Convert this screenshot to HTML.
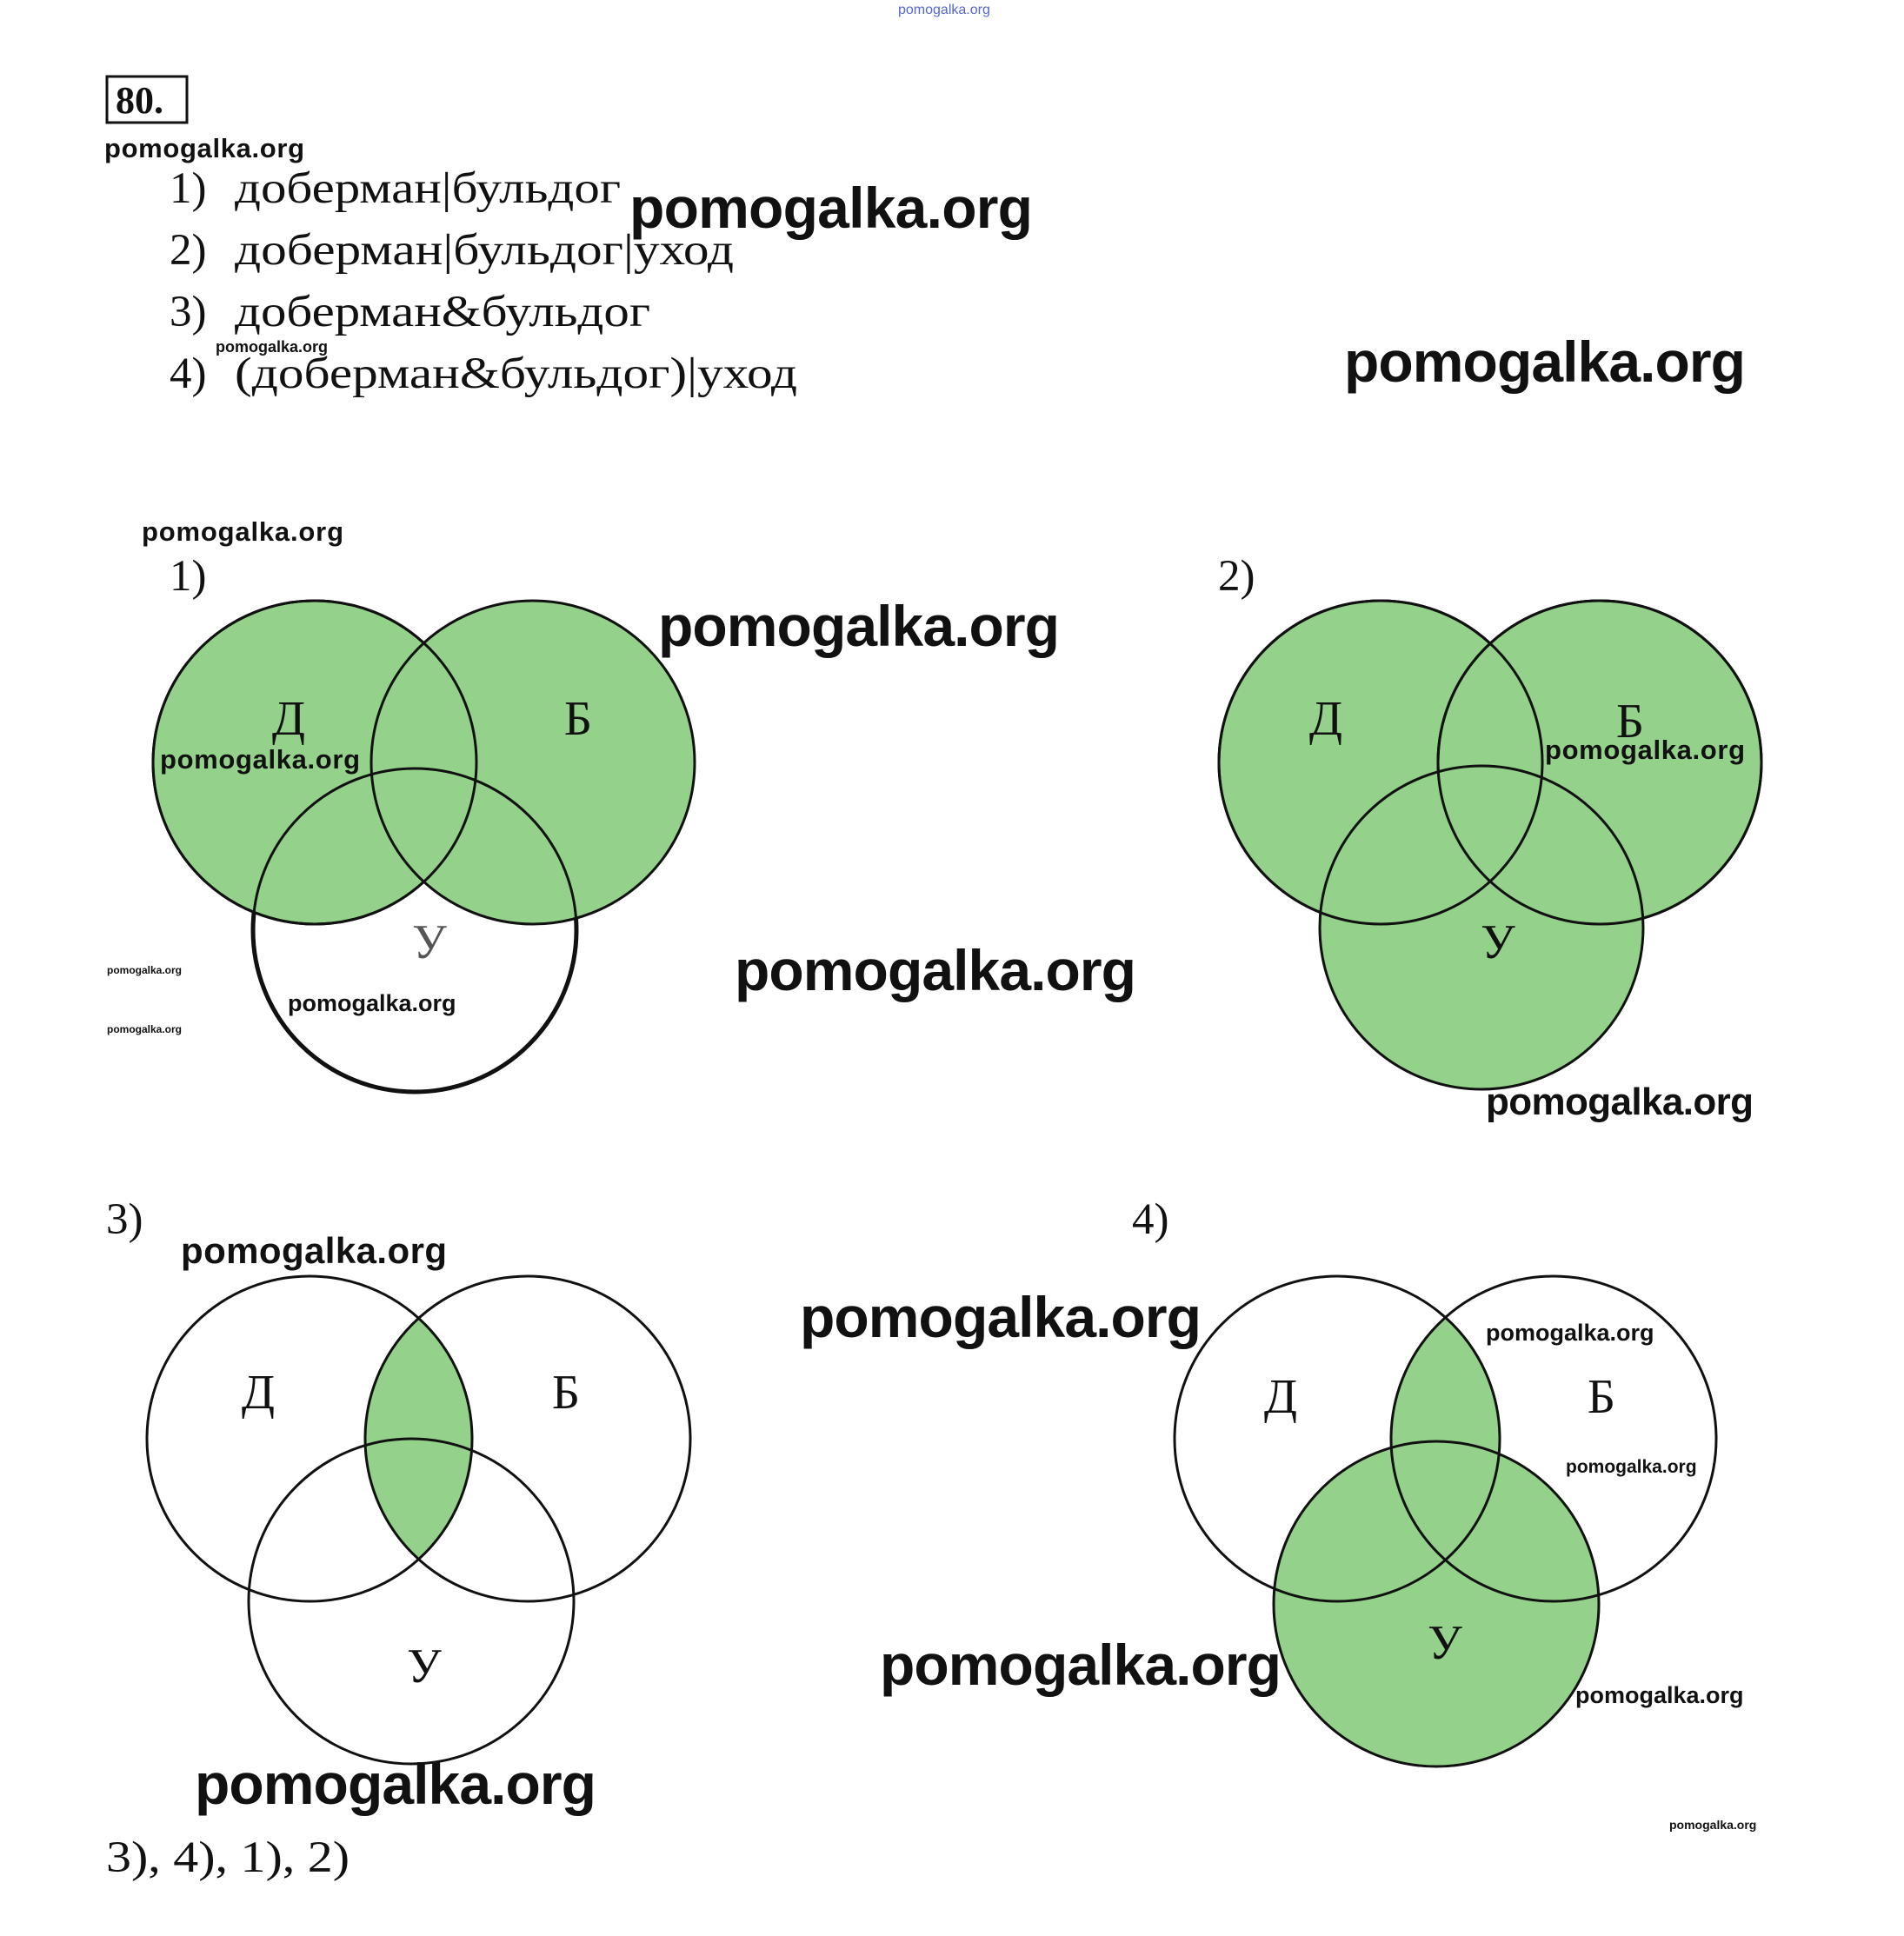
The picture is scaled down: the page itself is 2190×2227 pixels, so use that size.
<!DOCTYPE html>
<html><head><meta charset="utf-8"><style>
html,body{margin:0;padding:0;background:#fff}
svg{display:block}
.s{font-family:"Liberation Serif",serif;fill:#111}
.w{font-family:"Liberation Sans",sans-serif;font-weight:bold;fill:#111}
</style></head><body>
<svg width="2190" height="2227" viewBox="0 0 2190 2227" xmlns="http://www.w3.org/2000/svg">
<defs>
<clipPath id="cD3"><circle cx="356" cy="1655" r="187"/></clipPath>
<clipPath id="cD4"><circle cx="1538" cy="1655" r="187"/></clipPath>
</defs>
<text x="1033" y="16" font-family="Liberation Sans,sans-serif" font-size="16" fill="#5566cc">pomogalka.org</text>
<rect x="123" y="88" width="92" height="53" fill="none" stroke="#111" stroke-width="3"/>
<text x="133" y="130" class="s" font-size="44" font-weight="bold">80.</text>
<text x="120" y="181" class="w" font-size="31" textLength="230">pomogalka.org</text>
<g class="s" font-size="51">
<text x="195" y="233">1)</text><text x="270" y="233" textLength="444" lengthAdjust="spacingAndGlyphs">доберман|бульдог</text>
<text x="195" y="304">2)</text><text x="270" y="304" textLength="574" lengthAdjust="spacingAndGlyphs">доберман|бульдог|уход</text>
<text x="195" y="375">3)</text><text x="270" y="375" textLength="478" lengthAdjust="spacingAndGlyphs">доберман&amp;бульдог</text>
<text x="195" y="446">4)</text><text x="270" y="446" textLength="647" lengthAdjust="spacingAndGlyphs">(доберман&amp;бульдог)|уход</text>
</g>
<text x="724" y="262" class="w" font-size="66" textLength="464">pomogalka.org</text>
<text x="248" y="405" class="w" font-size="18">pomogalka.org</text>
<text x="1546" y="439" class="w" font-size="66" textLength="462">pomogalka.org</text>
<text x="163" y="622" class="w" font-size="31" textLength="232">pomogalka.org</text>
<text x="195" y="679" class="s" font-size="51">1)</text>
<text x="1401" y="679" class="s" font-size="51">2)</text>
<text x="757" y="743" class="w" font-size="66" textLength="462">pomogalka.org</text>

<!-- Diagram 1 -->
<g stroke="#111" stroke-width="3">
<circle cx="477" cy="1070" r="186" fill="#fff" stroke-width="5"/>
<circle cx="362" cy="877" r="186" fill="#94d18a"/>
<circle cx="613" cy="877" r="186" fill="#94d18a"/>
<circle cx="362" cy="877" r="186" fill="none"/>
<circle cx="477" cy="1070" r="186" fill="none"/>
</g>
<g class="s" font-size="56" text-anchor="middle">
<text x="332" y="845">Д</text><text x="665" y="845">Б</text><text x="494" y="1102" fill="#555">У</text>
</g>
<text x="184" y="884" class="w" font-size="31" textLength="230">pomogalka.org</text>
<text x="123" y="1120" class="w" font-size="12">pomogalka.org</text>
<text x="123" y="1188" class="w" font-size="12">pomogalka.org</text>
<text x="331" y="1163" class="w" font-size="27" font-weight="normal">pomogalka.org</text>
<text x="845" y="1139" class="w" font-size="66" textLength="462">pomogalka.org</text>

<!-- Diagram 2 -->
<g stroke="#111" stroke-width="3">
<circle cx="1588" cy="877" r="186" fill="#94d18a"/>
<circle cx="1840" cy="877" r="186" fill="#94d18a"/>
<circle cx="1704" cy="1067" r="186" fill="#94d18a"/>
<circle cx="1588" cy="877" r="186" fill="none"/>
<circle cx="1840" cy="877" r="186" fill="none"/>
</g>
<g class="s" font-size="56" text-anchor="middle">
<text x="1525" y="845">Д</text><text x="1875" y="848">Б</text><text x="1723" y="1102">У</text>
</g>
<text x="1777" y="873" class="w" font-size="31" textLength="230">pomogalka.org</text>
<text x="1709" y="1282" class="w" font-size="44" textLength="308">pomogalka.org</text>

<text x="122" y="1419" class="s" font-size="51">3)</text>
<text x="1302" y="1419" class="s" font-size="51">4)</text>
<text x="208" y="1453" class="w" font-size="42" textLength="306">pomogalka.org</text>
<text x="920" y="1538" class="w" font-size="66" textLength="462">pomogalka.org</text>

<!-- Diagram 3 -->
<circle cx="607" cy="1655" r="187" fill="#94d18a" clip-path="url(#cD3)"/>
<g stroke="#111" stroke-width="3" fill="none">
<circle cx="356" cy="1655" r="187"/>
<circle cx="607" cy="1655" r="187"/>
<circle cx="473" cy="1842" r="187"/>
</g>
<g class="s" font-size="56" text-anchor="middle">
<text x="297" y="1620">Д</text><text x="651" y="1620">Б</text><text x="488" y="1935">У</text>
</g>

<!-- Diagram 4 -->
<circle cx="1787" cy="1655" r="187" fill="#94d18a" clip-path="url(#cD4)"/>
<circle cx="1652" cy="1845" r="187" fill="#94d18a"/>
<g stroke="#111" stroke-width="3" fill="none">
<circle cx="1538" cy="1655" r="187"/>
<circle cx="1787" cy="1655" r="187"/>
<circle cx="1652" cy="1845" r="187"/>
</g>
<g class="s" font-size="56" text-anchor="middle">
<text x="1473" y="1625">Д</text><text x="1842" y="1625">Б</text><text x="1662" y="1908">У</text>
</g>
<text x="1709" y="1542" class="w" font-size="27" font-weight="normal">pomogalka.org</text>
<text x="1801" y="1694" class="w" font-size="21" font-weight="normal">pomogalka.org</text>
<text x="1012" y="1938" class="w" font-size="66" textLength="462">pomogalka.org</text>
<text x="1812" y="1959" class="w" font-size="27" font-weight="normal">pomogalka.org</text>
<text x="224" y="2075" class="w" font-size="66" textLength="462">pomogalka.org</text>
<text x="122" y="2153" class="s" font-size="51" textLength="280" lengthAdjust="spacingAndGlyphs">3), 4), 1), 2)</text>
<text x="1920" y="2104" class="w" font-size="14">pomogalka.org</text>
</svg>
</body></html>
